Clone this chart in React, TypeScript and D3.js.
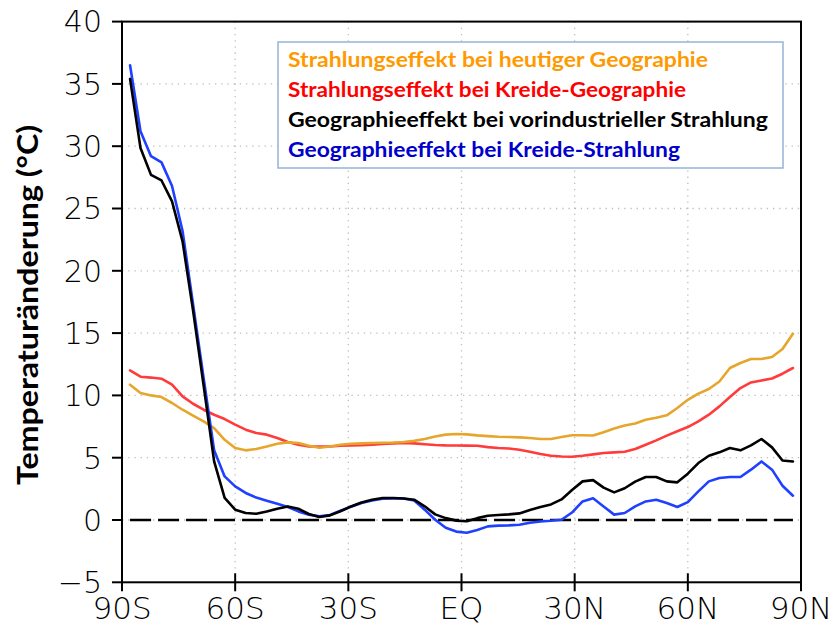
import React from "react";
import * as d3 from "d3";

const LATS = [
  -87.8638, -85.0965, -82.3129, -79.5256, -76.7369, -73.9475, -71.1578, -68.3678,
  -65.5776, -62.7874, -59.997, -57.2066, -54.4162, -51.6257, -48.8352, -46.0447,
  -43.2542, -40.4636, -37.6731, -34.8825, -32.092, -29.3014, -26.5108, -23.7202,
  -20.9296, -18.139, -15.3484, -12.5578, -9.7671, -6.9765, -4.1859, -1.3953,
  1.3953, 4.1859, 6.9765, 9.7671, 12.5578, 15.3484, 18.139, 20.9296,
  23.7202, 26.5108, 29.3014, 32.092, 34.8825, 37.6731, 40.4636, 43.2542,
  46.0447, 48.8352, 51.6257, 54.4162, 57.2066, 59.997, 62.7874, 65.5776,
  68.3678, 71.1578, 73.9475, 76.7369, 79.5256, 82.3129, 85.0965, 87.8638,
];

// Strahlungseffekt bei heutiger Geographie
const ORANGE = [
  10.86, 10.19, 10.0, 9.87, 9.39, 8.85, 8.37, 7.91, 7.38, 6.44, 5.78, 5.59, 5.7, 5.9, 6.12, 6.23,
  6.18, 5.96, 5.8, 5.9, 6.04, 6.12, 6.15, 6.18, 6.2, 6.22, 6.26, 6.35, 6.5, 6.7, 6.85, 6.9,
  6.87, 6.79, 6.73, 6.68, 6.66, 6.63, 6.58, 6.5, 6.5, 6.66, 6.8, 6.8, 6.78, 7.05, 7.34, 7.58,
  7.75, 8.05, 8.2, 8.4, 8.99, 9.65, 10.14, 10.51, 11.12, 12.2, 12.6, 12.92, 12.92, 13.08, 13.72, 14.95,
];

// Strahlungseffekt bei Kreide-Geographie
const RED = [
  12.0, 11.5, 11.43, 11.34, 10.86, 9.92, 9.33, 8.85, 8.45, 8.1, 7.65, 7.25, 6.98, 6.85, 6.58, 6.26,
  6.04, 5.9, 5.9, 5.9, 5.96, 5.98, 6.0, 6.05, 6.1, 6.15, 6.18, 6.15, 6.08, 6.02, 5.99, 5.98,
  5.97, 5.96, 5.85, 5.78, 5.74, 5.64, 5.48, 5.3, 5.16, 5.1, 5.08, 5.16, 5.27, 5.38, 5.43, 5.48,
  5.7, 6.04, 6.39, 6.77, 7.12, 7.46, 7.91, 8.45, 9.12, 9.87, 10.59, 11.04, 11.2, 11.36, 11.74, 12.2,
];

// Geographieeffekt bei vorindustrieller Strahlung
const BLACK = [
  35.4, 29.85, 27.7, 27.25, 25.57, 22.36, 16.8, 10.8, 4.7, 1.77, 0.83, 0.56, 0.5, 0.69, 0.9, 1.09,
  0.9, 0.48, 0.24, 0.37, 0.7, 1.09, 1.41, 1.63, 1.77, 1.77, 1.73, 1.63, 1.1, 0.45, 0.15, -0.05,
  -0.1, 0.15, 0.34, 0.4, 0.45, 0.53, 0.8, 1.04, 1.25, 1.65, 2.4, 3.1, 3.2, 2.6, 2.22, 2.55,
  3.08, 3.45, 3.45, 3.1, 3.02, 3.72, 4.57, 5.16, 5.43, 5.78, 5.59, 5.99, 6.5, 5.83, 4.78, 4.7,
];

// Geographieeffekt bei Kreide-Strahlung
const BLUE = [
  36.5, 31.2, 29.2, 28.7, 26.8, 23.2, 17.3, 11.4, 5.6, 3.5, 2.7, 2.17, 1.8, 1.55, 1.3, 1.04,
  0.69, 0.42, 0.29, 0.4, 0.75, 1.06, 1.36, 1.57, 1.7, 1.73, 1.73, 1.57, 0.83, 0.02, -0.62, -0.93,
  -1.02, -0.8, -0.51, -0.45, -0.43, -0.38, -0.22, -0.12, -0.06, 0.02, 0.6, 1.49, 1.74, 1.09, 0.43, 0.56,
  1.09, 1.49, 1.63, 1.36, 1.04, 1.44, 2.3, 3.1, 3.37, 3.45, 3.45, 4.04, 4.7, 4.04, 2.75, 1.95,
];

const X_TICKS = [-90, -60, -30, 0, 30, 60, 90];
const X_LABELS = ["90S", "60S", "30S", "EQ", "30N", "60N", "90N"];
const Y_TICKS = [-5, 0, 5, 10, 15, 20, 25, 30, 35, 40];

const LEGEND = [
  { text: "Strahlungseffekt bei heutiger Geographie", color: "#FF9900", len: 420 },
  { text: "Strahlungseffekt bei Kreide-Geographie", color: "#FF0000", len: 398 },
  { text: "Geographieeffekt bei vorindustrieller Strahlung", color: "#000000", len: 480 },
  { text: "Geographieeffekt bei Kreide-Strahlung", color: "#0000CC", len: 392 },
];

const SERIES = [
  { values: RED, color: "#FF3B3B" },
  { values: ORANGE, color: "#E6A62C" },
  { values: BLUE, color: "#2040FF" },
  { values: BLACK, color: "#000000" },
];

export default function App() {
  const W = 831;
  const H = 628;
  const x = d3.scaleLinear().domain([-90, 90]).range([122, 801]);
  const y = d3.scaleLinear().domain([-5, 40]).range([582.3, 21.6]);
  const line = d3
    .line<number>()
    .x((_, i) => x(LATS[i]))
    .y((d) => y(d));
  const zeros = LATS.map(() => 0);
  const tickFont = "'DejaVu Sans', sans-serif";

  return (
    <svg
      width={W}
      height={H}
      style={{ position: "absolute", left: 0, top: 0, background: "#fff" }}
    >
      <rect x={0} y={0} width={W} height={H} fill="#fff" />
      {/* grid */}
      {X_TICKS.slice(1, -1).map((t) => (
        <line
          key={"gx" + t}
          x1={x(t)}
          x2={x(t)}
          y1={y(40)}
          y2={y(-5)}
          stroke="#bdbdbd"
          strokeWidth={1.3}
          strokeDasharray="1.3,4.9"
        />
      ))}
      {Y_TICKS.slice(1, -1).map((t) => (
        <line
          key={"gy" + t}
          x1={x(-90)}
          x2={x(90)}
          y1={y(t)}
          y2={y(t)}
          stroke="#bdbdbd"
          strokeWidth={1.3}
          strokeDasharray="1.3,4.9"
        />
      ))}
      {/* zero dashed line */}
      <path
        d={line(zeros) || ""}
        fill="none"
        stroke="#000"
        strokeWidth={2.6}
        strokeDasharray="21,7"
      />
      {/* series */}
      {SERIES.map((s, k) => (
        <path
          key={k}
          d={line(s.values) || ""}
          fill="none"
          stroke={s.color}
          strokeWidth={2.6}
          strokeLinejoin="round"
          strokeLinecap="round"
        />
      ))}
      {/* frame */}
      <rect
        x={x(-90)}
        y={y(40)}
        width={x(90) - x(-90)}
        height={y(-5) - y(40)}
        fill="none"
        stroke="#000"
        strokeWidth={2}
      />
      {/* y ticks */}
      {Y_TICKS.map((t) => (
        <g key={"yt" + t}>
          <line x1={x(-90) - 10} x2={x(-90)} y1={y(t)} y2={y(t)} stroke="#000" strokeWidth={2} />
          <text
            x={x(-90) - 20}
            y={y(t)}
            dy="0.36em"
            textAnchor="end"
            fontFamily={tickFont}
            fontWeight={300}
            fontSize={30}
            fill="#000"
          >
            {t < 0 ? "\u2212" + Math.abs(t) : String(t)}
          </text>
        </g>
      ))}
      {/* x ticks */}
      {X_TICKS.map((t, i) => (
        <g key={"xt" + t}>
          <line x1={x(t)} x2={x(t)} y1={y(-5) - 9} y2={y(-5) + 9} stroke="#000" strokeWidth={2} />
          <text
            x={x(t)}
            y={619}
            textAnchor="middle"
            fontFamily={tickFont}
            fontWeight={300}
            fontSize={31}
            fill="#000"
          >
            {X_LABELS[i]}
          </text>
        </g>
      ))}
      {/* y title */}
      <text
        transform={`translate(38,305) rotate(-90)`}
        textAnchor="middle"
        fontFamily="Lato, sans-serif"
        fontWeight={700}
        fontSize={29}
        textLength={360}
        lengthAdjust="spacingAndGlyphs"
        fill="#000"
      >
        Temperaturänderung (°C)
      </text>
      {/* legend */}
      <rect x={278} y={42} width={505} height={126} fill="#fff" stroke="#95B3D7" strokeWidth={1.5} />
      {LEGEND.map((l, i) => (
        <text
          key={l.text}
          x={288}
          y={67 + i * 30}
          fontFamily="Lato, sans-serif"
          fontWeight={700}
          fontSize={21.5}
          textLength={l.len}
          lengthAdjust="spacingAndGlyphs"
          fill={l.color}
        >
          {l.text}
        </text>
      ))}
    </svg>
  );
}
